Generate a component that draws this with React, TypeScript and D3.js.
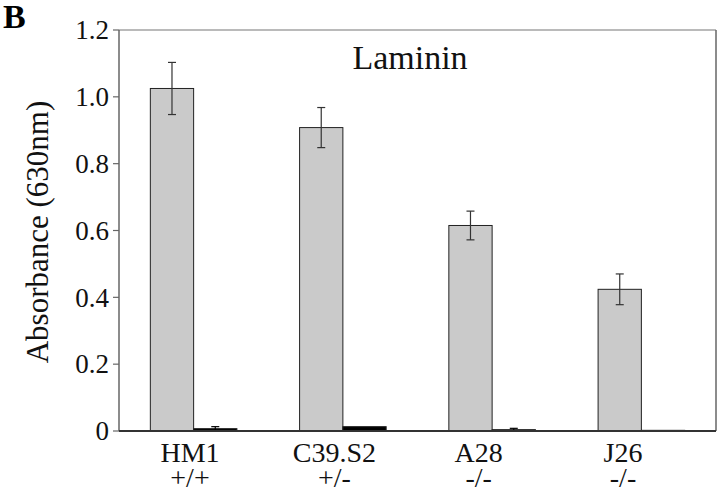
import React from "react";
import * as d3 from "d3";

const categories = ["HM1", "C39.S2", "A28", "J26"];
const genotypes = ["+/+", "+/-", "-/-", "-/-"];
const grayValues = [1.025, 0.908, 0.615, 0.424];
const grayErrors = [0.078, 0.06, 0.043, 0.046];
const blackValues = [0.007, 0.013, 0.004, 0.002];
const blackErrors = [0.006, 0.002, 0.004, 0.001];
const yTicks = [0, 0.2, 0.4, 0.6, 0.8, 1.0, 1.2];
const title = "Laminin";
const yLabel = "Absorbance (630nm)";
const panel = "B";

const W = 720;
const H = 491;
const left = 119;
const right = 716;
const top = 30;
const bottom = 431;
const font = "'Liberation Serif', 'Times New Roman', serif";

export default function App() {
  const x = d3.scaleBand<string>().domain(categories).range([left, right]).paddingInner(0.42).paddingOuter(0.21);
  const bw = x.bandwidth() / 2;
  const y = d3.scaleLinear().domain([0, 1.2]).range([bottom, top]);
  const labelX = d3.scalePoint<string>().domain(categories).range([190, 623]);
  const fmt = (v: number) => (v === 0 ? "0" : d3.format(".1f")(v));

  const bars: { x0: number; v: number; e: number; fill: string }[] = [];
  categories.forEach((c, i) => {
    const x0 = x(c)!;
    bars.push({ x0, v: grayValues[i], e: grayErrors[i], fill: "#cacaca" });
    bars.push({ x0: x0 + bw, v: blackValues[i], e: blackErrors[i], fill: "#000" });
  });

  return (
    <svg width={W} height={H} style={{ position: "absolute", left: 0, top: 0, background: "#fff" }} fontFamily={font}>
      <text x={3} y={28} fontSize={34} fontWeight="bold" fill="#000">{panel}</text>
      {/* frame */}
      <line x1={left} x2={right} y1={top} y2={top} stroke="#777" strokeWidth={1.2} />
      <line x1={right} x2={right} y1={top} y2={bottom} stroke="#666" strokeWidth={1.5} />
      <line x1={left} x2={left} y1={top} y2={bottom} stroke="#666" strokeWidth={1.5} />
      {bars.map((b, i) => (
        <g key={i}>
          <rect x={b.x0} y={y(b.v)} width={bw} height={bottom - y(b.v)} fill={b.fill} stroke="#222" strokeWidth={1} />
          {b.fill !== "#000" || b.e > 0.003 ? (
            <g stroke={b.fill === "#000" ? "#000" : "#333"} strokeWidth={1.2}>
              <line x1={b.x0 + bw / 2} x2={b.x0 + bw / 2} y1={y(b.v + b.e)} y2={y(b.v - b.e)} />
              <line x1={b.x0 + bw / 2 - 4} x2={b.x0 + bw / 2 + 4} y1={y(b.v + b.e)} y2={y(b.v + b.e)} />
              <line x1={b.x0 + bw / 2 - 4} x2={b.x0 + bw / 2 + 4} y1={y(b.v - b.e)} y2={y(b.v - b.e)} />
            </g>
          ) : null}
        </g>
      ))}
      <line x1={left} x2={right} y1={bottom} y2={bottom} stroke="#333" strokeWidth={1.8} />
      {yTicks.map((t) => (
        <g key={t}>
          <line x1={left - 6} x2={left} y1={y(t)} y2={y(t)} stroke="#666" strokeWidth={1.2} />
          <text x={109} y={y(t)} dy="0.34em" textAnchor="end" fontSize={27} fill="#111">{fmt(t)}</text>
        </g>
      ))}
      <text x={410} y={69} textAnchor="middle" fontSize={34} fill="#111">{title}</text>
      <text transform={`translate(48, ${232}) rotate(-90)`} textAnchor="middle" fontSize={31} fill="#111">{yLabel}</text>
      {categories.map((c, i) => (
        <g key={c}>
          <text x={labelX(c)} y={461.5} textAnchor="middle" fontSize={28} fill="#111">{c}</text>
          <text x={labelX(c)} y={487} textAnchor="middle" fontSize={28} fill="#111">{genotypes[i]}</text>
        </g>
      ))}
    </svg>
  );
}
